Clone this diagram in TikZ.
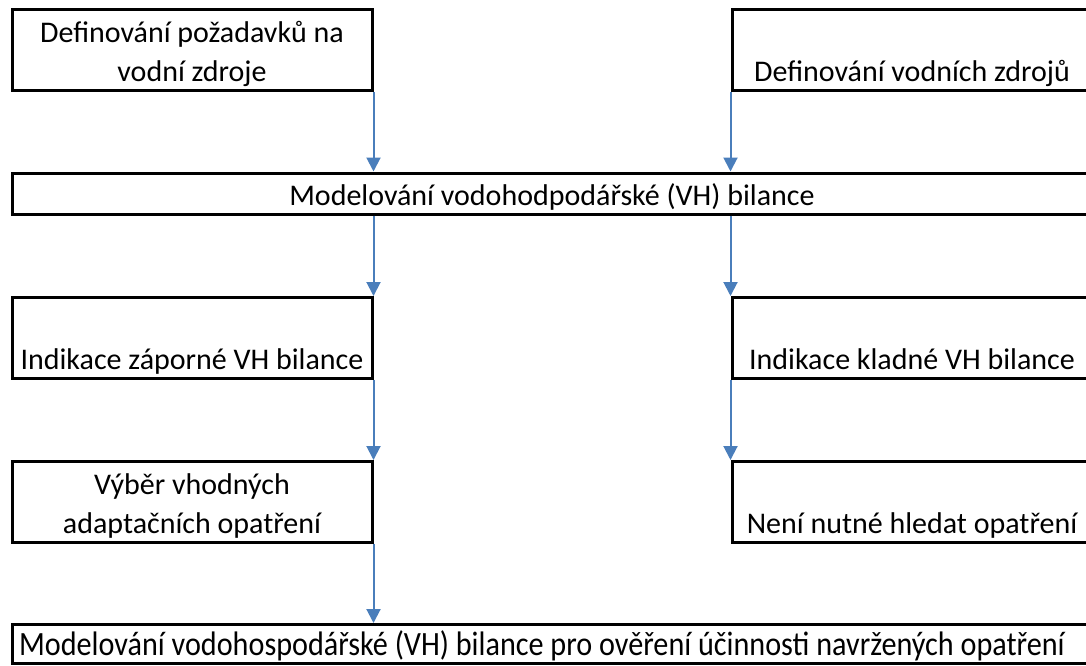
\documentclass[tikz,border=0pt]{standalone}
\usepackage{fontspec}
\setmainfont{Carlito}
\usetikzlibrary{arrows.meta}
\definecolor{arrowblue}{HTML}{4A7EBB}
\newcommand{\boxstrut}{\rule[-7.8pt]{0pt}{39pt}}
\begin{document}
\begin{tikzpicture}[x=1pt,y=-1pt,
  box/.style={draw,line width=3pt,inner sep=0pt,minimum width=360pt,minimum height=81pt,
    align=center,font=\fontsize{30}{39}\selectfont},
  wide/.style={box,minimum width=1080pt,minimum height=41pt},
  flow/.style={draw=arrowblue,line width=2pt,-{Triangle[width=14pt,length=14pt]}}]
\useasboundingbox (0,0) rectangle (1086,666);
\node[box] (req) at (192,50.5) {\boxstrut Definování požadavků na\\\boxstrut vodní zdroje};
\node[box] (src) at (912,50.5) {\boxstrut\\\boxstrut Definování vodních zdrojů};
\node[wide] (bal) at (552,193.5) {\boxstrut Modelování vodohodpodářské (VH) bilance};
\node[box] (neg) at (192,338) {\boxstrut\\\boxstrut Indikace záporné VH bilance};
\node[box] (pos) at (912,338) {\boxstrut\\\boxstrut Indikace kladné VH bilance};
\node[box] (sel) at (192,502) {\boxstrut Výběr vhodných\\\boxstrut adaptačních opatření};
\node[box] (none) at (912,502) {\boxstrut\\\boxstrut Není nutné hledat opatření};
\node[wide,minimum height=38pt,font=\fontsize{34}{39}\selectfont] (check) at (552,644)
  {\boxstrut\scalebox{0.888}[1]{Modelování vodohospodářské (VH) bilance pro ověření účinnosti navržených opatření}\hspace{20pt}};
\draw[flow] (req.south east) -- (req.south east |- bal.north);
\draw[flow] (src.south west) -- (src.south west |- bal.north);
\draw[flow] (bal.south -| neg.east) -- (neg.north east);
\draw[flow] (bal.south -| pos.west) -- (pos.north west);
\draw[flow] (neg.south east) -- (sel.north east);
\draw[flow] (pos.south west) -- (none.north west);
\draw[flow] (sel.south east) -- (sel.south east |- check.north);
\end{tikzpicture}
\end{document}
